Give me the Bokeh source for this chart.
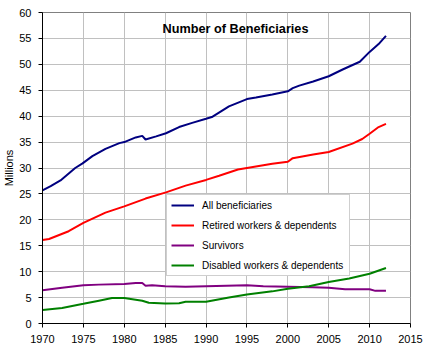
from bokeh.plotting import figure
from bokeh.models import Legend, LegendItem, Label, FixedTicker, Range1d
from bokeh.embed import file_html
from bokeh.resources import INLINE

# ---- data (millions) ----
all_x = [1970.0, 1971.0, 1972.2, 1974.0, 1974.9, 1976.1, 1977.7, 1979.4, 1980.0, 1981.4,
         1982.2, 1982.6, 1983.9, 1985.1, 1986.7, 1988.3, 1990.0, 1990.8, 1992.8, 1995.0,
         1996.1, 1998.1, 2000.0, 2000.6, 2001.4, 2003.1, 2005.0, 2006.7, 2008.8, 2010.0,
         2011.1, 2012.0]
all_y = [25.7, 26.5, 27.6, 30.0, 30.9, 32.3, 33.7, 34.8, 35.0, 35.9,
         36.2, 35.5, 36.1, 36.7, 37.9, 38.7, 39.5, 39.9, 41.9, 43.3,
         43.6, 44.2, 44.8, 45.4, 45.9, 46.7, 47.7, 49.0, 50.5, 52.4,
         53.9, 55.5]

ret_x = [1970.0, 1970.8, 1973.2, 1975.0, 1977.7, 1980.0, 1982.6, 1985.1, 1987.5, 1990.0,
         1991.6, 1993.9, 1995.0, 1998.1, 2000.0, 2000.6, 2003.1, 2005.0, 2007.9, 2009.1,
         2010.0, 2011.1, 2012.0]
ret_y = [16.1, 16.3, 17.8, 19.4, 21.4, 22.6, 24.1, 25.3, 26.6, 27.7,
         28.5, 29.7, 30.0, 30.8, 31.2, 31.9, 32.6, 33.1, 34.7, 35.6,
         36.6, 37.9, 38.5]

sur_x = [1970.0, 1972.4, 1975.0, 1976.9, 1980.0, 1981.4, 1982.2, 1982.6, 1983.4, 1985.0,
         1987.5, 1990.0, 1995.0, 1997.0, 2000.0, 2003.0, 2005.0, 2007.0, 2010.0, 2010.7,
         2012.0]
sur_y = [6.4, 6.9, 7.4, 7.5, 7.6, 7.8, 7.8, 7.3, 7.4, 7.2,
         7.1, 7.2, 7.4, 7.2, 7.1, 7.0, 6.9, 6.6, 6.6, 6.3,
         6.3]

dis_x = [1970.0, 1972.4, 1975.0, 1976.9, 1978.5, 1980.0, 1982.2, 1983.0, 1985.0, 1986.7,
         1987.5, 1990.0, 1992.8, 1995.0, 1998.1, 2000.0, 2002.6, 2005.0, 2007.5, 2010.0,
         2012.0]
dis_y = [2.6, 3.0, 3.8, 4.4, 4.9, 4.9, 4.4, 4.0, 3.85, 3.9,
         4.2, 4.2, 5.0, 5.6, 6.2, 6.7, 7.2, 8.0, 8.7, 9.6,
         10.7]

series_names = ["All beneficiaries", "Retired workers & dependents", "Survivors",
                "Disabled workers & dependents"]
x_ticks = [1970, 1975, 1980, 1985, 1990, 1995, 2000, 2005, 2010, 2015]
y_ticks = [0, 5, 10, 15, 20, 25, 30, 35, 40, 45, 50, 55, 60]
title_text = "Number of Beneficiaries"
y_label = "Millions"

FONT = "Liberation Sans"

p = figure(frame_width=368, frame_height=311,
           min_border_left=36, min_border_right=15, min_border_top=12, min_border_bottom=25,
           x_range=Range1d(1970, 2015), y_range=Range1d(0, 60),
           output_backend="svg", toolbar_location=None)
p.background_fill_color = "white"
p.border_fill_color = "white"
p.outline_line_color = "#808080"
p.outline_line_width = 1

for ax in (p.xaxis[0], p.yaxis[0]):
    ax.axis_line_color = "black"
    ax.major_tick_line_color = "black"
    ax.major_tick_in = 0
    ax.major_tick_out = 4
    ax.minor_tick_line_color = None
    ax.major_label_text_font = FONT
    ax.major_label_text_font_size = "11px"
    ax.major_label_text_color = "black"
    ax.major_label_standoff = 7
    ax.axis_label_text_font = FONT
    ax.axis_label_text_font_size = "11px"
    ax.axis_label_text_font_style = "normal"
    ax.axis_label_text_color = "black"

p.xaxis.ticker = FixedTicker(ticks=x_ticks)
p.yaxis.ticker = FixedTicker(ticks=y_ticks)
p.yaxis.axis_label = y_label
p.yaxis.axis_label_standoff = 1

p.xgrid.ticker = FixedTicker(ticks=x_ticks)
p.ygrid.ticker = FixedTicker(ticks=y_ticks)
for g in (p.xgrid[0], p.ygrid[0]):
    g.grid_line_color = "#c0c0c0"
    g.grid_line_width = 1

colors = ["#000080", "#ff0000", "#800080", "#008000"]
xs = [all_x, ret_x, sur_x, dis_x]
ys = [all_y, ret_y, sur_y, dis_y]
renderers = []
for x, y, c in zip(xs, ys, colors):
    r = p.line(x, y, line_color=c, line_width=2)
    renderers.append(r)

legend = Legend(items=[LegendItem(label=n, renderers=[r]) for n, r in zip(series_names, renderers)],
                location=(124, 47))
legend.label_text_font = FONT
legend.label_text_font_size = "10px"
legend.label_text_color = "black"
legend.glyph_width = 23
legend.glyph_height = 12
legend.label_height = 12
legend.spacing = 8
legend.padding = 4
legend.margin = 0
legend.label_standoff = 8
legend.label_width = 143
legend.border_line_color = "#a0a0a0"
legend.border_line_width = 1
legend.background_fill_color = "white"
legend.background_fill_alpha = 1.0
p.add_layout(legend)

p.add_layout(Label(x=1993.6, y=56.9, text=title_text, text_font=FONT,
                   text_font_style="bold", text_font_size="12.7px",
                   text_align="center", text_baseline="middle", text_color="black"))

open("out.html", "w").write(file_html(p, INLINE))
